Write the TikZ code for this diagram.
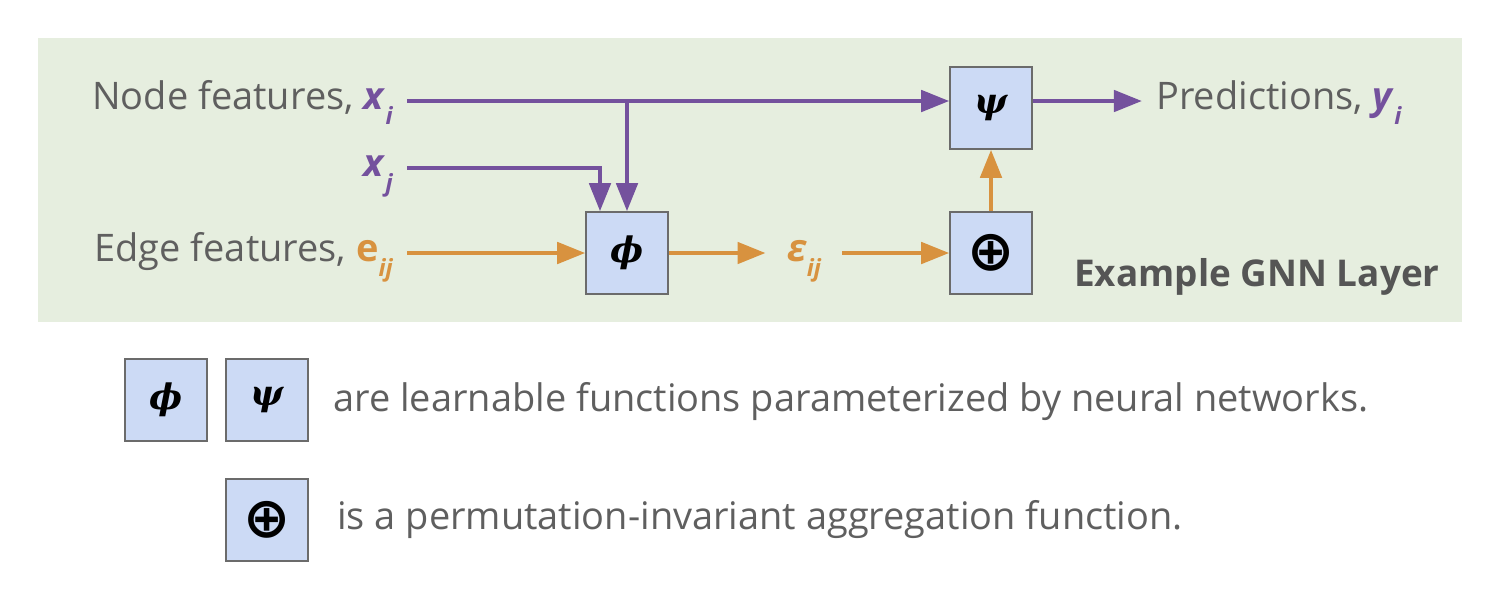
\documentclass[tikz,border=0pt]{standalone}
\usepackage{fontspec}
\setmainfont{Open Sans}
\newfontfamily\greekfont{DejaVu Serif}
\newfontfamily\opfont{DejaVu Sans}
\usetikzlibrary{arrows.meta,calc}
\definecolor{bggreen}{HTML}{E6EEDF}
\definecolor{gnnpurple}{HTML}{74519D}
\definecolor{gnnorange}{HTML}{D8923F}
\definecolor{boxblue}{HTML}{CCDAF5}
\definecolor{boxline}{HTML}{6B6B6B}
\definecolor{txtgray}{HTML}{5F5F5F}
\newcommand{\lowsub}[1]{\raisebox{-0.4em}{\fontsize{13.5}{13.5}\selectfont\bfseries\itshape #1}}
\newcommand{\fphi}{{\greekfont\bfseries\itshape ϕ}}
\newcommand{\fpsi}{{\greekfont\bfseries\itshape ψ}}
\newcommand{\fplus}{{\opfont\bfseries\fontsize{32}{32}\selectfont ⊕}}
\tikzset{
	fnbox/.style={draw=boxline, fill=boxblue, line width=0.8pt, minimum width=1.64cm, minimum height=1.64cm, inner sep=0, font=\fontsize{20}{24}\selectfont},
	lbl/.style={text=txtgray, font=\fontsize{21.6}{24}\selectfont, inner xsep=8pt, inner ysep=0, text height=14pt, text depth=4pt},
	purp/.style={draw=gnnpurple, line width=2.6pt, -{Triangle[length=16pt,width=12pt]}},
	orng/.style={draw=gnnorange, line width=2.6pt, -{Triangle[length=16pt,width=12pt]}}
}
\begin{document}
\begin{tikzpicture}[x=0.02cm, y=-0.02cm]
		\useasboundingbox (0,0) rectangle (1500,600);
		\fill [bggreen] (38,38) rectangle (1462,322);
		\node (phi) at (627,253) [fnbox] {\fphi};
		\node (plus) at (991,253) [fnbox] {\fplus};
		\node (psi) at (991,108) [fnbox] {\fpsi};
		\node (xi) at (407,101) [lbl, anchor=east] {Node features, \textcolor{gnnpurple}{\textbf{\textit{x}}\lowsub{i}}};
		\node (xj) at (407,168) [lbl, anchor=east] {\textcolor{gnnpurple}{\textbf{\textit{x}}\lowsub{j}}};
		\node (eij) at (407,253) [lbl, anchor=east] {Edge features, \textcolor{gnnorange}{\textbf{e}\lowsub{ij}}};
		\node (eps) at (804,253) [lbl, inner xsep=12pt] {\textcolor{gnnorange}{\textbf{\textit{ε}}\lowsub{ij}}};
		\node (pred) at (1142,101) [lbl, anchor=west] {Predictions, \textcolor{gnnpurple}{\textbf{\textit{y}}\lowsub{i}}};
		\node (title) at (1440,278) [lbl, anchor=east, inner xsep=0, font=\fontsize{21}{24}\selectfont\bfseries, text=txtgray!90!black] {Example GNN Layer};
		\draw [purp] (xi.east) -- (psi.west |- xi.east);
		\draw [purp] (phi.north |- xi.east) -- (phi.north);
		\draw [purp] (xj.east) -| ($(phi.north)+(-27,0)$);
		\draw [orng] (eij.east) -- (phi.west);
		\draw [orng] (phi.east) -- (eps.west);
		\draw [orng] (eps.east) -- (plus.west);
		\draw [orng] (plus.north) -- (psi.south);
		\draw [purp] (psi.east |- xi.east) -- (pred.west);
		\node (lphi) at (166,400) [fnbox] {\fphi};
		\node (lpsi) at (267,400) [fnbox] {\fpsi};
		\node (lplus) at (267,520) [fnbox] {\fplus};
		\node (ltxt1) at (333,403) [lbl, anchor=west, inner xsep=0] {are learnable functions parameterized by neural networks.};
		\node (ltxt2) at (337,521) [lbl, anchor=west, inner xsep=0] {is a permutation-invariant aggregation function.};
	\end{tikzpicture}
\end{document}
